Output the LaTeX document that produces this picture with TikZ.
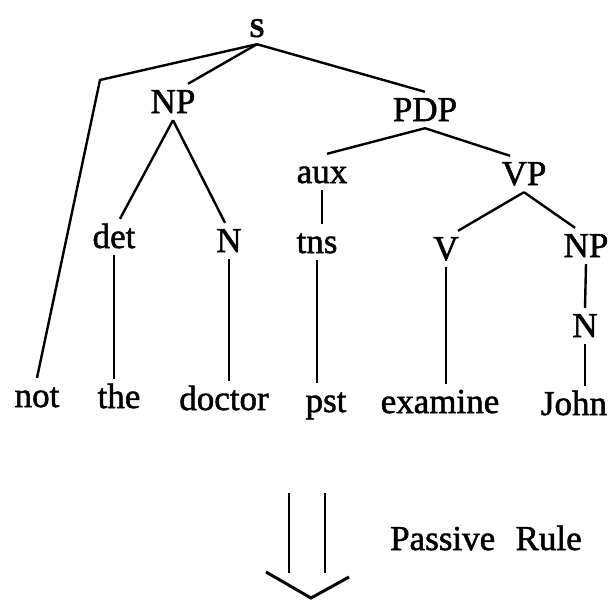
\documentclass[tikz,border=0pt]{standalone}
\usepackage{fontspec}
\usepackage{tikz}
\newfontfamily\inkfont{Liberation Serif}[FakeBold=1.5]

\begin{document}
\begin{tikzpicture}[x=1pt,y=-1pt]
          \tikzstyle{cat} = [anchor=base, font=\inkfont\fontsize{35}{40}\selectfont, text height=22pt, text depth=0pt, inner xsep=2pt, inner ysep=7pt]
          \tikzstyle{branch} = [line width=2.4pt]
        \useasboundingbox (0,0) rectangle (610,602);
        % categories
        \node[cat, font=\inkfont\bfseries\fontsize{27}{32}\selectfont] (S) at (257,37) {S};
        \node[cat] (NP1) at (173,113) {NP};
        \node[cat] (PDP) at (425,121) {PDP};
        \node[cat] (aux) at (322,183) {aux};
        \node[cat] (VP) at (524,185) {VP};
        \node[cat] (det) at (114,248) {det};
        \node[cat] (N1) at (229,252) {N};
        \node[cat] (tns) at (317,253) {tns};
        \node[cat] (V) at (446,260) {V};
        \node[cat] (NP2) at (586,257) {NP};
        \node[cat] (N2) at (585,337) {N};
        % words
        \node[cat] (not) at (37,407) {not};
        \node[cat] (the) at (119,408) {the};
        \node[cat] (doctor) at (224,410) {doctor};
        \node[cat] (pst) at (326,412) {pst};
        \node[cat] (examine) at (440,413) {examine};
        \node[cat] (John) at (574,415) {John};
        \coordinate (bend) at (100,80);
        \begin{scope}[branch]
          \draw (S.south) -- (bend) -- (not.north);
          \draw (S.south) -- ([xshift=15pt]NP1.north);
          \draw (S.south) -- (PDP.north);
          \draw (NP1.south) -- ([xshift=6pt]det.north);
          \draw (NP1.south) -- ([xshift=-4pt]N1.north);
          \draw (PDP.south) -- ([xshift=5pt]aux.north);
          \draw (PDP.south) -- ([xshift=-14pt]VP.north);
          \draw (aux.south) -- (aux.south |- tns.north);
          \draw (VP.south) -- ([xshift=12pt]V.north);
          \draw (VP.south) -- ([xshift=-11pt]NP2.north);
          \draw (det.south) -- (det.south |- the.north);
          \draw (N1.south) -- (N1.south |- doctor.north);
          \draw (tns.south) -- (tns.south |- pst.north);
          \draw (V.south) -- (V.south |- examine.north);
          \draw (NP2.south) -- (N2.north);
          \draw (N2.south) -- (N2.south |- John.north);
        \end{scope}
        % rule arrow
        \coordinate (a1) at (289,493);
        \coordinate (a2) at (325,493);
        \coordinate (tip) at (311,598);
        \draw[line width=2.2pt] (a1) -- (a1 |- 0,573);
        \draw[line width=2.2pt] (a2) -- (a2 |- 0,573);
        \draw[line width=3pt] (266,572) -- (tip) -- (349,577);
        \node[cat, anchor=base west] (rule) at (388,550) {Passive\,\, Rule};
      \end{tikzpicture}
\end{document}
